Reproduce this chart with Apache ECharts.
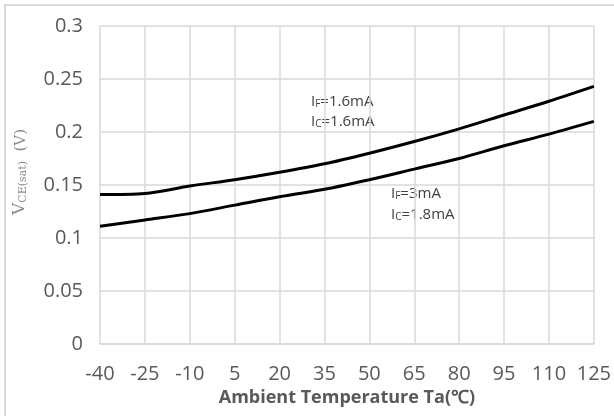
<!DOCTYPE html>
<html>
<head>
<meta charset="utf-8">
<script src="https://cdn.jsdelivr.net/npm/echarts@6/dist/echarts.min.js"></script>
<style>html,body{margin:0;padding:0;background:#fff;}#c{width:614px;height:416px;}</style>
</head>
<body>
<div id="c"></div>
<script>
const temps = ['-40','-25','-10','5','20','35','50','65','80','95','110','125'];
const vceIF16 = [0.141,0.142,0.149,0.155,0.162,0.170,0.180,0.191,0.203,0.216,0.229,0.243];
const vceIF3  = [0.111,0.117,0.123,0.131,0.139,0.146,0.155,0.165,0.175,0.187,0.198,0.210];
const yTicks = [0,0.05,0.1,0.15,0.2,0.25,0.3];

const chart = echarts.init(document.getElementById('c'));
const txt = '#595959';
const gridC = '#d9d9d9';
chart.setOption({
  animation:false,
  backgroundColor:'#fff',
  grid:{left:100,right:16,top:26,bottom:72},
  xAxis:{
    type:'category', data:temps, boundaryGap:false,
    axisLine:{show:true,lineStyle:{color:gridC,width:1.5}},
    axisTick:{show:false},
    axisLabel:{color:txt,fontSize:20,fontFamily:'Open Sans',margin:20,interval:0},
    splitLine:{show:true,interval:0,lineStyle:{color:gridC,width:1.5}},
    name:'Ambient Temperature Ta(℃)', nameLocation:'middle', nameGap:43,
    nameTextStyle:{color:txt,fontSize:18,fontWeight:'bold',fontFamily:'Open Sans'}
  },
  yAxis:{
    type:'value', min:0, max:0.3, interval:0.05,
    axisLine:{show:false}, axisTick:{show:false},
    axisLabel:{color:txt,fontSize:20,fontFamily:'Open Sans',margin:17,
      formatter:v=>{const t=yTicks.find(x=>Math.abs(x-v)<1e-9);return String(t!==undefined?t:v);}},
    splitLine:{show:true,lineStyle:{color:gridC,width:1.5}}
  },
  series:[
    {type:'line',data:vceIF16,smooth:0.3,symbol:'none',lineStyle:{color:'#000',width:3}},
    {type:'line',data:vceIF3,smooth:0.3,symbol:'none',lineStyle:{color:'#000',width:3}}
  ],
  graphic:[
    {type:'rect',shape:{x:5,y:5,width:700,height:500},style:{fill:'none',stroke:'#d9d9d9',lineWidth:2},silent:true},
    {type:'text',left:311,top:94,style:{
      text:'{m|I}{s|F}{m|=1.6mA}\n{m|I}{s|C}{m|=1.6mA}',
      rich:{m:{fontSize:15,fontFamily:'Open Sans',fill:'#404040',lineHeight:20,verticalAlign:'bottom'},
            s:{fontSize:10,fontFamily:'Open Sans',fill:'#404040',lineHeight:20,verticalAlign:'bottom'}}}},
    {type:'text',left:391,top:186,style:{
      text:'{m|I}{s|F}{m|=3mA}\n{m|I}{s|C}{m|=1.8mA}',
      rich:{m:{fontSize:15,fontFamily:'Open Sans',fill:'#404040',lineHeight:21,verticalAlign:'bottom'},
            s:{fontSize:10,fontFamily:'Open Sans',fill:'#404040',lineHeight:21,verticalAlign:'bottom'}}}},
    {type:'text',x:20,y:172,rotation:Math.PI/2,style:{
      text:'{v|V}{s|CE(sat)}{g|  (V)}',align:'center',verticalAlign:'middle',
      rich:{v:{fontSize:17,fontFamily:'DejaVu Serif',fill:'#8c8c8c',verticalAlign:'bottom'},
            s:{fontSize:11,fontFamily:'DejaVu Serif',fill:'#8c8c8c',verticalAlign:'bottom'},
            g:{fontSize:15,fontFamily:'DejaVu Serif',fill:'#8c8c8c',verticalAlign:'bottom'}}}}
  ]
});
</script>
</body>
</html>
